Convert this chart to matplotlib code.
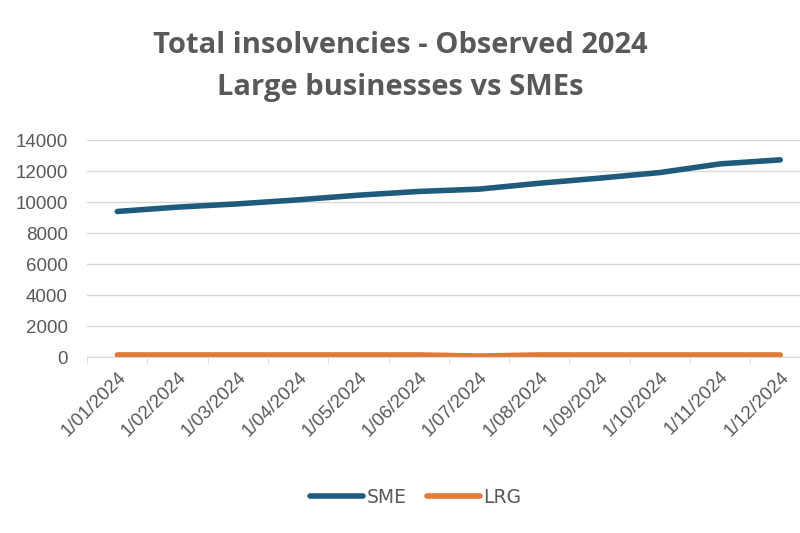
import matplotlib
matplotlib.use("Agg")
from matplotlib import pyplot as plt
import numpy as np

months = ["1/01/2024", "1/02/2024", "1/03/2024", "1/04/2024", "1/05/2024", "1/06/2024",
          "1/07/2024", "1/08/2024", "1/09/2024", "1/10/2024", "1/11/2024", "1/12/2024"]
sme = [9400, 9680, 9890, 10150, 10450, 10690, 10840, 11220, 11550, 11910, 12470, 12730]
lrg = [140, 140, 140, 140, 140, 140, 70, 140, 140, 140, 140, 140]

grey = "#595959"

fig = plt.figure(figsize=(8, 5.33), dpi=100)
ax = fig.add_axes([0.109, 0.330, 0.904, 0.407])

x = np.arange(len(months))
ax.plot(x, sme, color="#1f5b7d", lw=4, solid_capstyle="round", label="SME")
ax.plot(x, lrg, color="#e07a35", lw=4, solid_capstyle="round", label="LRG")

ax.set_xlim(-0.5, 11.5)
ax.set_ylim(0, 14000)
ax.set_yticks(np.arange(0, 14001, 2000))
ax.yaxis.grid(True, color="#d9d9d9", lw=1)
ax.set_axisbelow(True)
for s in ["top", "right", "left"]:
    ax.spines[s].set_visible(False)
ax.spines["bottom"].set_color("#d9d9d9")

ax.set_xticks(x)
ax.set_xticklabels(months, rotation=45, ha="right", rotation_mode="anchor",
                   fontsize=13.5, color=grey, family="Liberation Sans")
ax.tick_params(axis="x", length=0, pad=8)
ax.set_xticks(np.arange(-0.5, 12, 1), minor=True)
ax.tick_params(axis="x", which="minor", length=5, color="#d9d9d9")
ax.tick_params(axis="y", length=0, labelsize=13.5, labelcolor=grey, pad=14)
for t in ax.get_yticklabels():
    t.set_family("Liberation Sans")

fig.text(0.5, 0.915, "Total insolvencies - Observed 2024", ha="center", va="center",
         fontsize=21, fontweight="bold", color=grey, family="Open Sans")
fig.text(0.5, 0.835, "Large businesses vs SMEs", ha="center", va="center",
         fontsize=21, fontweight="bold", color=grey, family="Open Sans")

fig.legend(loc="center", bbox_to_anchor=(0.52, 0.067), ncol=2, frameon=False,
           fontsize=13.5, handlelength=2.8, columnspacing=1.1, handletextpad=0.2,
           labelcolor=grey)

fig.savefig("out.png", dpi=100)
